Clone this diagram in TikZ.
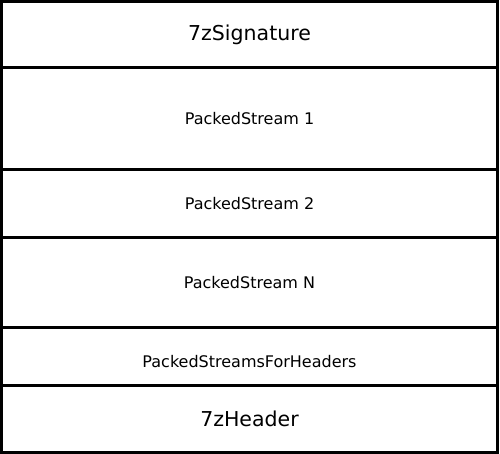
\documentclass[tikz,border=0pt]{standalone}
\usepackage{fontspec}
\setmainfont{DejaVu Sans}
\usetikzlibrary{positioning}

\begin{document}
\begin{tikzpicture}[x=1pt,y=1pt,
		block/.style={draw, line width=2.5pt, rectangle, outer sep=0pt, inner sep=0pt,
			minimum width=496pt, font=\fontsize{16}{18}\selectfont},
		bigtext/.style={font=\fontsize{20.5}{23}\selectfont}]
		\useasboundingbox (0,0) rectangle (500,-454);
		\node[block, bigtext, minimum height=66pt, anchor=north west] (sig) at (1.5,-1.5) {7zSignature};
		\node[block, minimum height=102pt, below=0pt of sig] (ps1) {PackedStream 1};
		\node[block, minimum height=68pt, below=0pt of ps1] (ps2) {PackedStream 2};
		\node[block, minimum height=90pt, below=0pt of ps2] (psn) {PackedStream N};
		\node[block, minimum height=58pt, text height=25pt, text depth=3.3pt, below=0pt of psn] (psh) {PackedStreamsForHeaders};
		\node[block, bigtext, minimum height=67pt, below=0pt of psh] (hdr) {7zHeader};
	\end{tikzpicture}
\end{document}
